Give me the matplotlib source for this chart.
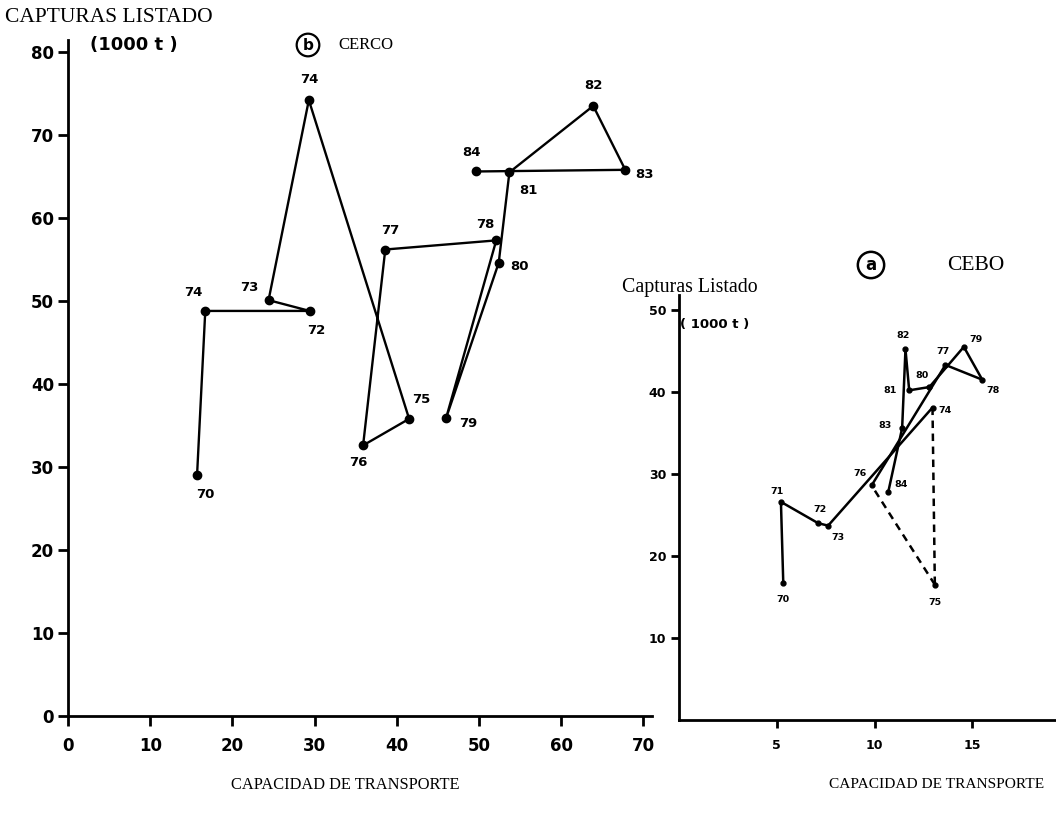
import matplotlib
matplotlib.use("Agg")
import matplotlib.pyplot as plt

# --- Cerco (purse seine) fleet: carrying capacity vs skipjack catch, 1970-1984
cerco_labels = ["70", "74", "72", "73", "74", "75", "76", "77", "78", "79",
                "80", "81", "82", "83", "84"]
cerco_capacidad = [15.7, 16.7, 29.4, 24.4, 29.3, 41.5, 35.9, 38.6, 52.1, 46.0,
                   52.4, 53.7, 63.9, 67.8, 49.6]
cerco_capturas = [29.0, 48.8, 48.8, 50.1, 74.2, 35.8, 32.6, 56.2, 57.3, 35.9,
                  54.6, 65.5, 73.5, 65.8, 65.6]

# --- Cebo (pole-and-line) fleet
cebo_labels = ["70", "71", "72", "73", "74", "75", "76", "77", "78", "79",
               "80", "81", "82", "83", "84"]
cebo_capacidad = [5.34, 5.22, 7.12, 7.63, 12.96, 13.08, 9.85, 13.62, 15.5, 14.56,
                  12.8, 11.77, 11.58, 11.41, 10.7]
cebo_capturas = [16.7, 26.6, 24.0, 23.7, 38.1, 16.5, 28.6, 43.3, 41.5, 45.5,
                 40.6, 40.2, 45.2, 35.6, 27.8]
# segments (start index) drawn dashed in the cebo series
cebo_dashed = [4, 5]

# label offsets in pixels (dx, dy) relative to each point
cerco_off = [(8, -19), (-12, 18), (7, -20), (-19, 13), (0, 21), (12, 19),
             (-5, -17), (5, 19), (-11, 16), (22, -5), (21, -4), (19, -18),
             (0, 20), (19, -5), (-4, 19)]
cebo_off = [(0, -16), (-4, 10), (2, 14), (10, -12), (12, -3), (0, -18),
            (-12, 12), (-2, 13), (11, -11), (12, 7), (-7, 12), (-19, 0),
            (-2, 14), (-17, 3), (13, 8)]

W, H = 1056, 816
fig = plt.figure(figsize=(W / 100, H / 100), dpi=100)
fig.patch.set_facecolor("white")

SERIF = "Liberation Serif"
SANS = "DejaVu Sans"


def style_axes(ax, tick_size, tick_len, xpad):
    for side in ("top", "right"):
        ax.spines[side].set_visible(False)
    for side in ("left", "bottom"):
        ax.spines[side].set_linewidth(2.0)
    ax.tick_params(direction="out", length=tick_len, width=2.0, pad=3,
                   labelsize=tick_size)
    ax.tick_params(axis="x", pad=xpad)
    for lab in ax.get_xticklabels() + ax.get_yticklabels():
        lab.set_fontfamily(SANS)
        lab.set_fontweight("bold")
    ax.set_facecolor("none")


# ---------------- panel b: CERCO ----------------
axb = fig.add_axes([68 / W, 100 / H, 583.6 / W, 676.5 / H])
axb.plot(cerco_capacidad, cerco_capturas, color="black", lw=1.7,
         marker="o", ms=6, mfc="black", mec="black", clip_on=False,
         solid_joinstyle="round")
for lab, x, y, (dx, dy) in zip(cerco_labels, cerco_capacidad, cerco_capturas,
                               cerco_off):
    axb.annotate(lab, (x, y), xytext=(dx, dy), textcoords="offset pixels",
                 ha="center", va="center", fontsize=9.5, fontweight="bold",
                 family=SANS)
axb.set_xlim(0, 71)
axb.set_ylim(0, 81.5)
axb.set_xticks(range(0, 71, 10))
axb.set_yticks(range(0, 81, 10))
style_axes(axb, 12, 7, 8)

# ---------------- panel a: CEBO ----------------
axa = fig.add_axes([678.7 / W, 96 / H, 376 / W, 424.8 / H])
n = len(cebo_capacidad)
for i in range(n - 1):
    ls = (0, (3, 2.2)) if i in cebo_dashed else "-"
    axa.plot(cebo_capacidad[i:i + 2], cebo_capturas[i:i + 2], color="black",
             lw=1.8, ls=ls, solid_capstyle="round")
axa.plot(cebo_capacidad, cebo_capturas, ls="none", marker="o", ms=3.5,
         color="black")
for lab, x, y, (dx, dy) in zip(cebo_labels, cebo_capacidad, cebo_capturas,
                               cebo_off):
    axa.annotate(lab, (x, y), xytext=(dx, dy), textcoords="offset pixels",
                 ha="center", va="center", fontsize=6.8, fontweight="bold",
                 family=SANS)
axa.set_xlim(0, 19.2)
axa.set_ylim(0, 51.8)
axa.set_xticks([5, 10, 15])
axa.set_yticks([10, 20, 30, 40, 50])
style_axes(axa, 9, 6, 8)


# ---------------- titles and axis captions ----------------
def ftext(x, y, s, **kw):
    fig.text(x / W, 1 - y / H, s, **kw)


ftext(5, 18, "CAPTURAS LISTADO", family=SERIF, fontsize=15.5, ha="left",
      va="center")
ftext(90, 45, "(1000 t )", family=SANS, fontweight="bold", fontsize=13,
      ha="left", va="center")
ftext(308, 45, "b", family=SANS, fontweight="bold", fontsize=11, ha="center",
      va="center", bbox=dict(boxstyle="circle,pad=0.25", fc="none",
                             ec="black", lw=1.6))
ftext(338, 45, "CERCO", family=SERIF, fontsize=12, ha="left", va="center")
ftext(345, 785, "CAPACIDAD DE TRANSPORTE", family=SERIF, fontsize=11.8,
      ha="center", va="center")

ftext(622, 287, "Capturas Listado", family=SERIF, fontsize=14.3, ha="left",
      va="center")
ftext(680, 325, "( 1000 t )", family=SANS, fontweight="bold", fontsize=9.5,
      ha="left", va="center")
ftext(871, 265, "a", family=SANS, fontweight="bold", fontsize=12, ha="center",
      va="center", bbox=dict(boxstyle="circle,pad=0.25", fc="none",
                             ec="black", lw=1.8))
ftext(947, 265, "CEBO", family=SERIF, fontsize=15.5, ha="left", va="center")
ftext(937, 785, "CAPACIDAD DE TRANSPORTE", family=SERIF, fontsize=11.1,
      ha="center", va="center")

fig.savefig("out.png", dpi=100, facecolor="white")
